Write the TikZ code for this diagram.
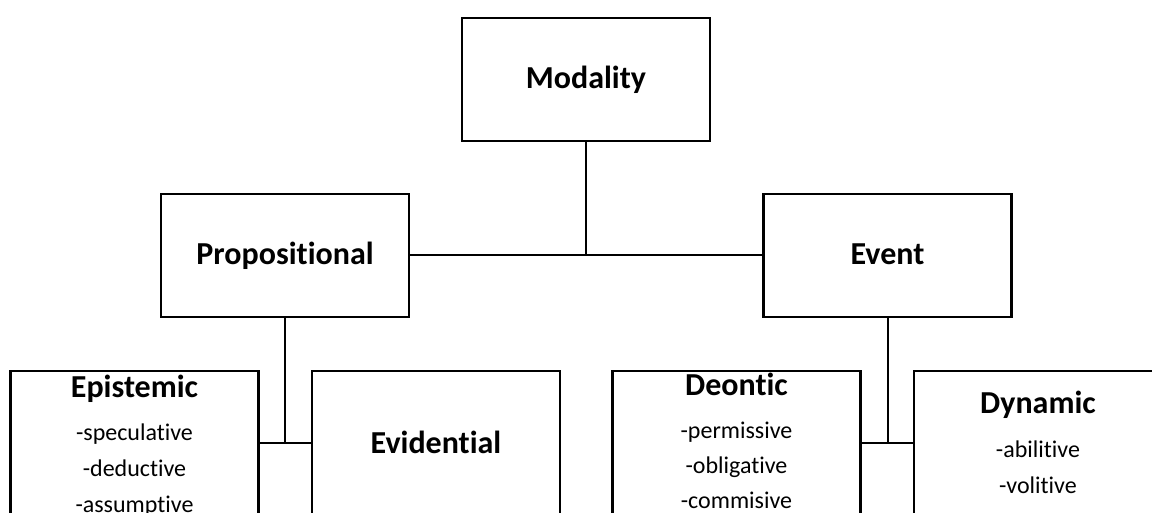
\documentclass[tikz,border=0pt]{standalone}
\usepackage{fontspec}
\setmainfont{Carlito}[Ligatures={NoCommon}]
\begin{document}
\begin{tikzpicture}[x=1pt,y=-1pt,
  box/.style={draw=black,line width=2.2pt,inner sep=0pt,minimum width=248pt,minimum height=123pt},
  lowbox/.style={box,minimum height=144pt},
  conn/.style={draw=black,line width=2pt},
  ttl/.style={anchor=base,inner sep=0pt,font=\fontsize{32}{38}\selectfont\bfseries},
  itm/.style={anchor=base,inner sep=0pt,font=\fontsize{24}{29}\selectfont}]
\useasboundingbox (0,0) rectangle (1152,513);
\clip (0,0) rectangle (1152,513);
% boxes
\node[box] (mod) at (586,79.5) {};
\node[box] (prop) at (285,255.5) {};
\node[box] (event) at (887.5,255.5) {};
\node[lowbox] (epi) at (134.5,443) {};
\node[lowbox] (evi) at (436,443) {};
\node[lowbox] (deo) at (736.5,443) {};
\node[lowbox] (dyn) at (1038,443) {};
% connectors
\coordinate (j1) at (mod.south |- prop.east);
\coordinate (j2) at (prop.south |- epi.east);
\coordinate (j3) at (event.south |- deo.east);
\draw[conn] (mod.south) -- (j1);
\draw[conn] (prop.east) -- (event.west);
\draw[conn] (prop.south) -- (j2);
\draw[conn] (epi.east) -- (evi.west);
\draw[conn] (event.south) -- (j3);
\draw[conn] (deo.east) -- (dyn.west);
% texts
\node[ttl] (tmod) at (586,89) {Modality};
\node[ttl] (tprop) at (285,265) {Propositional};
\node[ttl] (tevent) at (887.5,265) {Event};
\node[ttl] (tepi) at (134.5,397) {Epistemic};
\node[itm] (e1) at (134.5,440) {-speculative};
\node[itm] (e2) at (134.5,476) {-deductive};
\node[itm] (e3) at (134.5,512) {-assumptive};
\node[ttl] (tevi) at (436,453) {Evidential};
\node[ttl] (tdeo) at (736.5,395) {Deontic};
\node[itm] (d1) at (736.5,438) {-permissive};
\node[itm] (d2) at (736.5,473) {-obligative};
\node[itm] (d3) at (736.5,508) {-commisive};
\node[ttl] (tdyn) at (1038,413) {Dynamic};
\node[itm] (y1) at (1038,457) {-abilitive};
\node[itm] (y2) at (1038,493) {-volitive};
\end{tikzpicture}
\end{document}
